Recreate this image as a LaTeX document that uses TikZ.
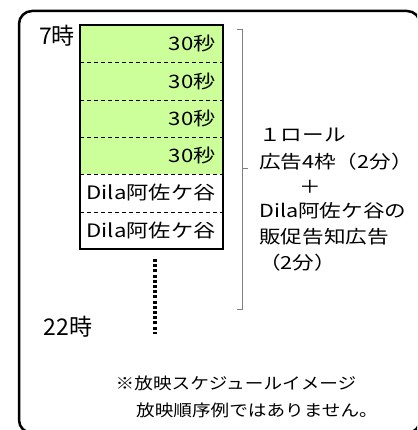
\documentclass[tikz,border=0pt]{standalone}
\usepackage{fontspec}
\setmainfont{Noto Sans CJK JP}
\newfontfamily\widefont[FakeStretch=1.2]{Noto Sans CJK JP}
\newfontfamily\notefont[FakeStretch=1.15]{Noto Sans CJK JP}
\definecolor{cellgreen}{HTML}{CCFF99}
\definecolor{bracegray}{HTML}{808080}
\begin{document}
\begin{tikzpicture}[x=1pt,y=-1pt,
  lbl/.style={inner sep=0pt,font=\widefont\fontsize{18.5}{22}\selectfont},
  side/.style={inner sep=0pt,font=\widefont\fontsize{18}{22}\selectfont},
  hour/.style={inner sep=0pt,font=\fontsize{23}{26}\selectfont},
  note/.style={inner sep=0pt,font=\notefont\fontsize{16.2}{20}\selectfont},
  sep/.style={dash pattern=on 4pt off 3pt,line width=0.9pt},
  cellbox/.style={line width=1.1pt}]
\useasboundingbox (0,0) rectangle (417,430);
\clip (0,0) rectangle (417,430);
\fill[white] (0,0) rectangle (417,430);
% frame
\draw[line width=2.5pt,rounded corners=13pt] (19,11) rectangle (420,433);
% cells
\fill[cellgreen] (80,25) rectangle (223,174);
\draw[cellbox] (80,25) rectangle (223,249);
\foreach \yy in {62,100,137,174,212} \draw[sep] (80,\yy) -- (223,\yy);
% cell texts
\node[lbl,anchor=east] (c1) at (216,43.5) {30秒};
\node[lbl,anchor=east] (c2) at (216,81) {30秒};
\node[lbl,anchor=east] (c3) at (216,118.5) {30秒};
\node[lbl,anchor=east] (c4) at (216,155.5) {30秒};
\node[lbl] (c5) at (151,193) {Dila阿佐ケ谷};
\node[lbl] (c6) at (151,230.5) {Dila阿佐ケ谷};
% time labels
\node[hour] (t7) at (57,36) {7時};
\node[hour] (t22) at (68,327) {22時};
% dotted continuation
\coordinate (d1) at (155,259);
\coordinate (d2) at (155,334);
\draw[line width=3.5pt,dash pattern=on 3pt off 2.2pt] (d1) -- (d2);
% brace
\coordinate (b1) at (236.5,30);
\coordinate (b2) at (242,30);
\coordinate (bm) at (242,169);
\coordinate (bt) at (248,169);
\coordinate (b3) at (242,309);
\coordinate (b4) at (236.5,309);
\draw[bracegray,line width=1pt] (b1) -- (b2) -- (b3) -- (b4);
\draw[bracegray,line width=1pt] (bm) -- (bt);
% right text
\node[side,anchor=west] (r1) at (259,135) {１ロール};
\node[side,anchor=west] (r2) at (259,162) {広告4枠（2分）};
\node[side] (r3) at (310,187) {＋};
\node[side,anchor=west] (r4) at (259,211) {Dila阿佐ケ谷の};
\node[side,anchor=west] (r5) at (259,237) {販促告知広告};
\node[side,anchor=west] (r6) at (259,263) {（2分）};
% notes
\node[note] (n1) at (236,383) {※放映スケジュールイメージ};
\node[note] (n2) at (257,410) {放映順序例ではありません。};
\end{tikzpicture}
\end{document}
